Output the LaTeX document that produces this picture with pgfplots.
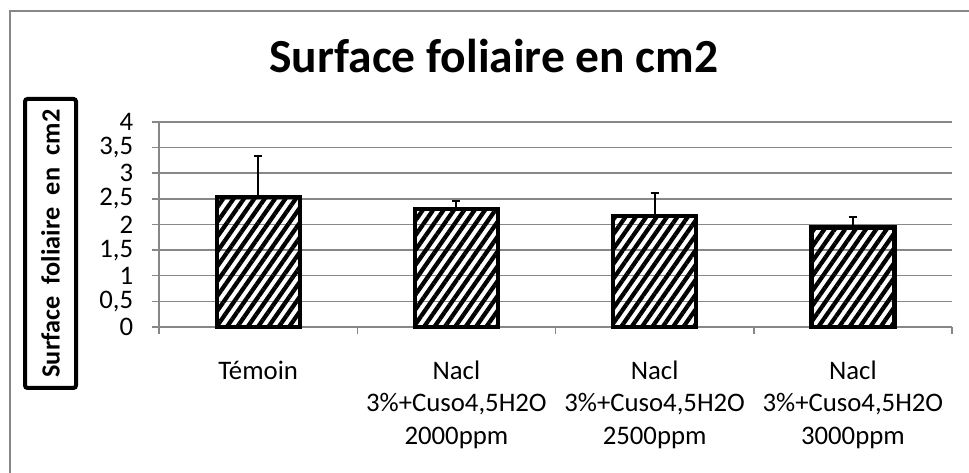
\documentclass[border=0pt]{standalone}
\usepackage{pgfplots}
\pgfplotsset{compat=1.18}
\usepackage{fontspec}
\setmainfont{Carlito}
\usetikzlibrary{patterns.meta}
\definecolor{gridgray}{HTML}{878787}
\begin{document}
\begin{tikzpicture}
\useasboundingbox (0,0) rectangle (387.6pt,189.2pt);
% outer frame (top and left visible)
\draw[gridgray, line width=0.6pt] (4pt,0) -- (4pt,184.8pt) -- (387.6pt,184.8pt);
% title
\node[anchor=base, font=\fontsize{19}{22}\selectfont\bfseries, inner sep=0pt] at (197.6pt,160.1pt) {Surface foliaire en cm2};
% y label box
\node[draw=black, line width=1.6pt, rounded corners=1pt, rotate=90, minimum width=115.6pt, minimum height=20.4pt, inner sep=0pt, font=\fontsize{10.5}{13}\selectfont\bfseries] at (20.2pt,91.8pt) {\makebox[107.2pt][s]{Surface foliaire en cm2}};
\begin{axis}[
  at={(63.6pt,58.4pt)}, anchor=south west,
  scale only axis, width=317.2pt, height=82pt,
  ymin=0, ymax=4, xmin=-0.5, xmax=3.5,
  ytick={0,0.5,...,4},
  xtick={0,1,2,3},
  xticklabels={T\'emoin, {Nacl\\3\%+Cuso4,5H2O\\2000ppm}, {Nacl\\3\%+Cuso4,5H2O\\2500ppm}, {Nacl\\3\%+Cuso4,5H2O\\3000ppm}},
  minor xtick={-0.5,0.5,1.5,2.5,3.5},
  tick align=outside,
  major tick length=2.8pt,
  minor tick length=2.8pt,
  xtick style={draw=none},
  minor x tick style={draw=gridgray, line width=0.6pt},
  y tick style={draw=gridgray, line width=0.6pt},
  axis line style={draw=gridgray, line width=0.6pt},
  axis x line*=bottom, axis y line*=left,
  ymajorgrids, grid style={draw=gridgray, line width=0.6pt},
  tick label style={font=\fontsize{10.7}{12.9}\selectfont, text=black},
  /pgf/number format/assume math mode=true,
  /pgf/number format/use comma,
  yticklabel style={xshift=-4.0pt},
  xticklabel style={align=center, yshift=-7.3pt},
  clip=false,
]
\addplot[ybar, bar width=33.2pt, draw=black, line width=1.7pt,
  pattern={Lines[angle=55, distance=3.4pt, line width=1.7pt]}, pattern color=black,
  error bars/.cd, y dir=plus, y explicit,
  error bar style={black, line width=0.8pt},
  error mark options={rotate=90, mark size=1.6pt, line width=0.8pt, black}]
  coordinates {
    (0,2.54) +- (0,0.80)
    (1,2.30) +- (0,0.16)
    (2,2.16) +- (0,0.45)
    (3,1.94) +- (0,0.21)
  };
\end{axis}
\end{tikzpicture}
\end{document}
